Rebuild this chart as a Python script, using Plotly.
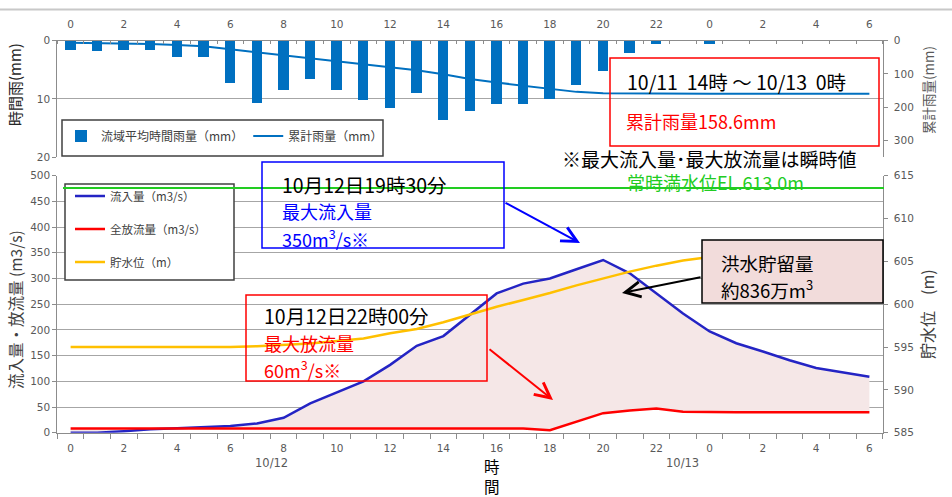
import plotly.graph_objects as go

# ---------------- data ----------------
hours = list(range(31))                      # 10/12 0時 ... 10/13 6時
tick_vals = list(range(0, 31, 2))
tick_text = ["0", "2", "4", "6", "8", "10", "12", "14", "16", "18", "20", "22",
             "0", "2", "4", "6"]

rain = [1.5, 1.8, 1.6, 1.5, 2.7, 2.8, 7.2, 10.7, 8.5, 6.6, 8.5, 10.1, 11.5, 8.9,
        13.6, 12.0, 10.8, 10.8, 10.0, 7.5, 5.2, 2.0, 0.5, 0.0, 0.5, 0.0, 0.0,
        0.0, 0.0, 0.0, 0.0]
rain_cum = [6, 7, 8, 10, 13, 17, 26, 35, 44, 52, 60, 69, 79, 89, 101, 115, 126,
            136, 146, 154, 158, 159, 159.5, 160, 160, 160, 160, 160, 160, 160, 160]

inflow = [0, 0, 3, 6.5, 8.5, 10.5, 13, 18, 29, 57, 78, 100, 132, 169, 188, 230,
          271, 290, 300, 318, 336, 310, 271, 232, 197, 174, 158, 141, 126, 117, 109]
outflow = [8, 8, 8, 8, 8, 8, 8, 8, 8, 8, 8, 8, 8, 8, 8, 8, 8, 8, 5, 21, 38, 43,
           47, 41, 40, 40, 40, 40, 40, 40, 40]
level = [595.0, 595.0, 595.0, 595.0, 595.0, 595.0, 595.0, 595.1, 595.25, 595.4,
         595.7, 596.0, 596.6, 597.1, 597.9, 598.8, 599.7, 600.5, 601.3, 602.2,
         603.0, 603.8, 604.5, 605.1, 605.5, 605.8, 606.1, 606.3, 606.5, 606.6, 606.7]

# ---------------- helpers (pixel -> paper) ----------------
W, H = 952, 497


def px(x):
    return x / W


def py(y):
    return 1 - y / H


XL, XR = 57.3, 882.7
top_dom = [py(157), py(40.7)]
bot_dom = [py(432.7), py(175.7)]

JP = "Noto Sans CJK JP"
TICKFONT = dict(family="DejaVu Sans", size=10.5, color="#595959")
AXC = "#8C8C8C"

fig = go.Figure()

# top panel
fig.add_trace(go.Bar(x=hours, y=rain, xaxis="x", yaxis="y", width=0.39,
                     marker=dict(color="#0070C0", line=dict(width=0)),
                     name="流域平均時間雨量（mm）", legend="legend"))
fig.add_trace(go.Scatter(x=hours, y=rain_cum, xaxis="x", yaxis="y2", mode="lines",
                         line=dict(color="#0070C0", width=2),
                         name="累計雨量（mm）", legend="legend"))

# flood storage fill between outflow and inflow
fig.add_trace(go.Scatter(x=hours, y=outflow, xaxis="x2", yaxis="y3", mode="lines",
                         line=dict(width=0, color="rgba(0,0,0,0)"),
                         showlegend=False, hoverinfo="skip"))
fig.add_trace(go.Scatter(x=hours, y=inflow, xaxis="x2", yaxis="y3", mode="lines",
                         line=dict(width=0, color="rgba(0,0,0,0)"), fill="tonexty",
                         fillcolor="#F5E7E7", showlegend=False, hoverinfo="skip"))

fig.add_trace(go.Scatter(x=hours, y=inflow, xaxis="x2", yaxis="y3", mode="lines",
                         line=dict(color="#2424C4", width=2.5),
                         name="流入量（m3/s）", legend="legend2", legendgroup="a"))
fig.add_trace(go.Scatter(x=hours, y=outflow, xaxis="x2", yaxis="y3", mode="lines",
                         line=dict(color="#FF0000", width=2.5),
                         name="全放流量（m3/s）", legend="legend2", legendgroup="b"))
fig.add_trace(go.Scatter(x=hours, y=level, xaxis="x2", yaxis="y4", mode="lines",
                         line=dict(color="#FFC000", width=2.5),
                         name="貯水位（m）", legend="legend2", legendgroup="c"))

minor_vals = [h - 0.5 for h in range(len(hours) + 1)]

xcommon = dict(domain=[px(XL), px(XR)], range=[-0.5, 30.5], tickmode="array",
               tickvals=tick_vals, ticktext=tick_text, ticks="", showgrid=False,
               zeroline=False, showline=True, linecolor=AXC, linewidth=1,
               tickfont=TICKFONT, automargin=False)
ycommon = dict(zeroline=False, showline=True, linecolor=AXC, ticks="outside",
               ticklen=4, tickcolor=AXC, tickfont=TICKFONT, automargin=False)

fig.update_layout(
    width=W, height=H, margin=dict(l=0, r=0, t=0, b=0, autoexpand=False),
    paper_bgcolor="white", plot_bgcolor="rgba(0,0,0,0)",
    font=dict(family=JP, color="#000000"),
    bargap=0,
    xaxis=dict(xcommon, anchor="y", side="top", ticklabelstandoff=8,
               minor=dict(tickmode="array", tickvals=minor_vals, ticks="inside",
                          ticklen=3, tickcolor=AXC)),
    yaxis=dict(ycommon, domain=top_dom, range=[20, 0], tickvals=[0, 10, 20],
               anchor="x", showgrid=True, gridcolor="#A6A6A6", gridwidth=1),
    yaxis2=dict(ycommon, overlaying="y", side="right", anchor="x", range=[350, 0],
                tickvals=[0, 100, 200, 300], showgrid=False, ticklabelstandoff=4),
    xaxis2=dict(xcommon, anchor="y3", side="bottom", ticklabelstandoff=6,
                minor=dict(tickmode="array", tickvals=minor_vals, ticks="outside",
                           ticklen=5, tickcolor=AXC)),
    yaxis3=dict(ycommon, domain=bot_dom, range=[0, 500], dtick=50, anchor="x2",
                showgrid=True, gridcolor="#A6A6A6", gridwidth=1),
    yaxis4=dict(ycommon, overlaying="y3", side="right", anchor="x2",
                range=[585, 615], dtick=5, showgrid=False, ticklabelstandoff=4),
    legend=dict(orientation="h", x=px(61), y=py(136), xanchor="left",
                yanchor="middle", bgcolor="rgba(0,0,0,0)", borderwidth=0,
                itemwidth=30, traceorder="normal",
                font=dict(family=JP, size=12, color="#404040")),
    legend2=dict(orientation="v", x=px(70), y=py(181.5), xanchor="left",
                 yanchor="top", bgcolor="rgba(0,0,0,0)", borderwidth=0,
                 itemwidth=30, tracegroupgap=14, traceorder="grouped",
                 font=dict(family=JP, size=11.5, color="#404040")),
)

shapes = []
# page rule at top
shapes.append(dict(type="line", xref="paper", yref="paper", x0=0, x1=1,
                   y0=py(9.5), y1=py(9.5), line=dict(color="#C8C8C8", width=2),
                   layer="above"))
# legend boxes
shapes.append(dict(type="rect", xref="paper", yref="paper", x0=px(62), x1=px(383),
                   y0=py(156), y1=py(120), fillcolor="white",
                   line=dict(color="#404040", width=1.5), layer="above"))
shapes.append(dict(type="rect", xref="paper", yref="paper", x0=px(65), x1=px(234),
                   y0=py(280), y1=py(184), fillcolor="white",
                   line=dict(color="#404040", width=1.5), layer="above"))
# full water level line (常時満水位)
shapes.append(dict(type="line", xref="paper", yref="paper", x0=px(63), x1=px(884),
                   y0=py(188), y1=py(188), line=dict(color="#22CC22", width=2),
                   layer="above"))
# callout boxes
shapes.append(dict(type="rect", xref="paper", yref="paper", x0=px(262), x1=px(504),
                   y0=py(248), y1=py(162), line=dict(color="#0000FF", width=1.5),
                   layer="above"))
shapes.append(dict(type="rect", xref="paper", yref="paper", x0=px(246), x1=px(487),
                   y0=py(381), y1=py(295), line=dict(color="#FF0000", width=1.5),
                   layer="above"))
shapes.append(dict(type="rect", xref="paper", yref="paper", x0=px(702), x1=px(883),
                   y0=py(303), y1=py(240), fillcolor="#F2DCDB",
                   line=dict(color="#000000", width=1.5), layer="above"))
shapes.append(dict(type="rect", xref="paper", yref="paper", x0=px(610), x1=px(879),
                   y0=py(146), y1=py(58), line=dict(color="#FF0000", width=1.5),
                   layer="above"))
fig.update_layout(shapes=shapes)

ann = []


def text(x, y, s, size=18, color="#000000", xanchor="left", angle=0, family=JP):
    ann.append(dict(xref="paper", yref="paper", x=px(x), y=py(y), text=s,
                    showarrow=False, xanchor=xanchor, yanchor="middle",
                    textangle=angle, font=dict(family=family, size=size, color=color)))


def arrow(hx, hy, tx, ty, color):
    ann.append(dict(xref="paper", yref="paper", x=px(hx), y=py(hy), ax=tx - hx,
                    ay=ty - hy, axref="pixel", ayref="pixel", text="",
                    showarrow=True, arrowhead=5, arrowsize=1.5, arrowwidth=2,
                    arrowcolor=color, standoff=0, startstandoff=0))


# top panel box
text(625, 82, "10/11  14時 ～ 10/13  0時", 19.5)
text(624, 121, "累計雨量158.6mm", 18, "#FF0000")
text(709, 158.5, "※最大流入量･最大放流量は瞬時値", 19, xanchor="center")
text(625, 181.5, "常時満水位EL.613.0m", 18, "#22CC22")

text(280, 184, "10月12日19時30分", 19.5)
text(280, 211, "最大流入量", 18, "#0000FF")
text(280, 238, "350m<sup>3</sup>/s※", 18, "#0000FF")
arrow(580, 243, 504, 202, "#0000FF")

text(262, 315, "10月12日22時00分", 19.5)
text(262, 343, "最大放流量", 18, "#FF0000")
text(262, 369, "60m<sup>3</sup>/s※", 18, "#FF0000")
arrow(553, 400, 488, 348, "#FF0000")

text(719, 263, "洪水貯留量", 18.5)
text(719, 289, "約836万m<sup>3</sup>", 18.5)
arrow(622, 293, 702, 277, "#000000")

# axis titles
text(14, 85, "時間雨(mm)", 15, "#262626", xanchor="center", angle=-90)
text(928, 90, "累計雨量(mm)", 13.5, "#595959", xanchor="center", angle=-90)
text(15, 310, "流入量・放流量 (m3/s)", 15.5, "#404040", xanchor="center", angle=-90)
text(927, 314, "貯水位　(m)", 16, "#404040", xanchor="center", angle=-90)

# date labels and x title
text(271, 463, "10/12", 11.5, "#595959", xanchor="center", family="DejaVu Sans")
text(682, 463, "10/13", 11.5, "#595959", xanchor="center", family="DejaVu Sans")
text(492, 476, "時<br>間", 15.5, xanchor="center")

fig.update_layout(annotations=ann)

fig.write_html("out.html",
               config={"displayModeBar": False},
               post_script="document.body.style.margin='0px';"
                           "document.body.style.overflow='hidden';")
